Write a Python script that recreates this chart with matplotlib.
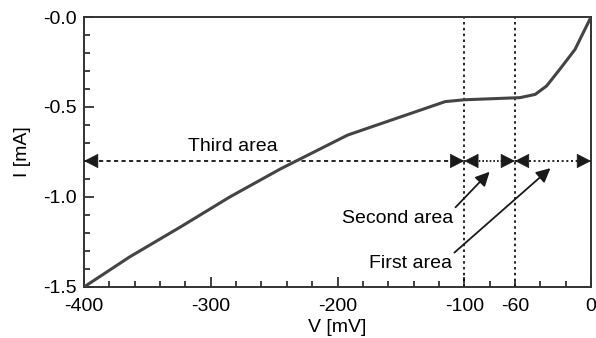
import matplotlib
matplotlib.use("Agg")
import matplotlib.pyplot as plt
from matplotlib.ticker import MultipleLocator, FixedLocator, FuncFormatter

plt.rcParams['font.family'] = ['Liberation Sans', 'DejaVu Sans']
plt.rcParams['axes.unicode_minus'] = False

# I-V curve
voltage = [-400, -364, -324, -285, -245, -192, -115, -100, -56, -44, -35, -24, -12.6, 0]
current = [-1.5, -1.333, -1.167, -1.0, -0.844, -0.656, -0.47, -0.46, -0.448, -0.43, -0.383, -0.285, -0.18, 0.0]

area_bounds = [-400, -100, -60, 0]
area_level = -0.8
x_major = [-400, -300, -200, -100, 0]
y_major = [-1.5, -1.0, -0.5, 0.0]

fig = plt.figure(figsize=(5.96, 3.38), dpi=100)
ax = fig.add_axes([0.141, 0.151, 0.8506, 0.7987])

ax.plot(voltage, current, color='#444444', lw=2.2, solid_joinstyle='round', zorder=3)

# region separators
for v in area_bounds[1:3]:
    ax.axvline(v, color='black', lw=1.2, ls=(0, (1.5, 2)), zorder=2)

# horizontal double arrows
styles = [(0, (2.5, 2)), (0, (1, 1.2)), (0, (1.2, 1.6))]
for (a, b), st in zip(zip(area_bounds[:-1], area_bounds[1:]), styles):
    ax.plot([a, b], [area_level, area_level], color='black', lw=1.2, ls=st, zorder=2)
    for tip, tail in ((a, a + 1), (b, b - 1)):
        ax.annotate('', xy=(tip, area_level), xytext=(tail, area_level),
                    arrowprops=dict(arrowstyle='-|>,head_length=0.47,head_width=0.24',
                                    color='#1a1a1a', lw=0.5, shrinkA=0, shrinkB=0,
                                    mutation_scale=20), zorder=4)

ax.text(-283, -0.72, 'Third area', fontsize=14, ha='center', va='center')
ax.annotate('Second area', xy=(-80, -0.86), xytext=(-109, -1.12), fontsize=14,
            ha='right', va='center',
            arrowprops=dict(arrowstyle='-|>,head_length=0.6,head_width=0.3', color='#1a1a1a',
                            lw=1.3, shrinkA=0, shrinkB=0, mutation_scale=14,
                            relpos=(1.0, 1.0)))
ax.annotate('First area', xy=(-32, -0.84), xytext=(-110, -1.37), fontsize=14,
            ha='right', va='center',
            arrowprops=dict(arrowstyle='-|>,head_length=0.6,head_width=0.3', color='#1a1a1a',
                            lw=1.3, shrinkA=0, shrinkB=0, mutation_scale=14,
                            relpos=(1.0, 1.0)))

ax.set_xlim(-400, 0)
ax.set_ylim(-1.5, 0)
ax.xaxis.set_major_locator(FixedLocator(x_major))
ax.xaxis.set_minor_locator(MultipleLocator(20))
ax.xaxis.set_minor_formatter(FuncFormatter(lambda v, p: '-60' if abs(v + 60) < 1e-6 else ''))
ax.yaxis.set_major_locator(FixedLocator(y_major))
ax.yaxis.set_minor_locator(MultipleLocator(0.1))
ax.yaxis.set_major_formatter(FuncFormatter(lambda v, p: '-%.1f' % abs(v)))

ax.tick_params(which='both', direction='in', top=False, right=False, labelsize=14,
               color='#333333', width=1.3)
ax.tick_params(which='major', length=7)
ax.tick_params(which='minor', length=4)
ax.tick_params(axis='x', which='both', pad=8)
ax.tick_params(axis='y', which='both', pad=5)
for s in ax.spines.values():
    s.set_linewidth(1.4)
    s.set_color('#333333')

ax.set_xlabel('V [mV]', fontsize=14, labelpad=3)
ax.set_ylabel('I [mA]', fontsize=14, labelpad=9)

fig.savefig('out.png', dpi=100)
